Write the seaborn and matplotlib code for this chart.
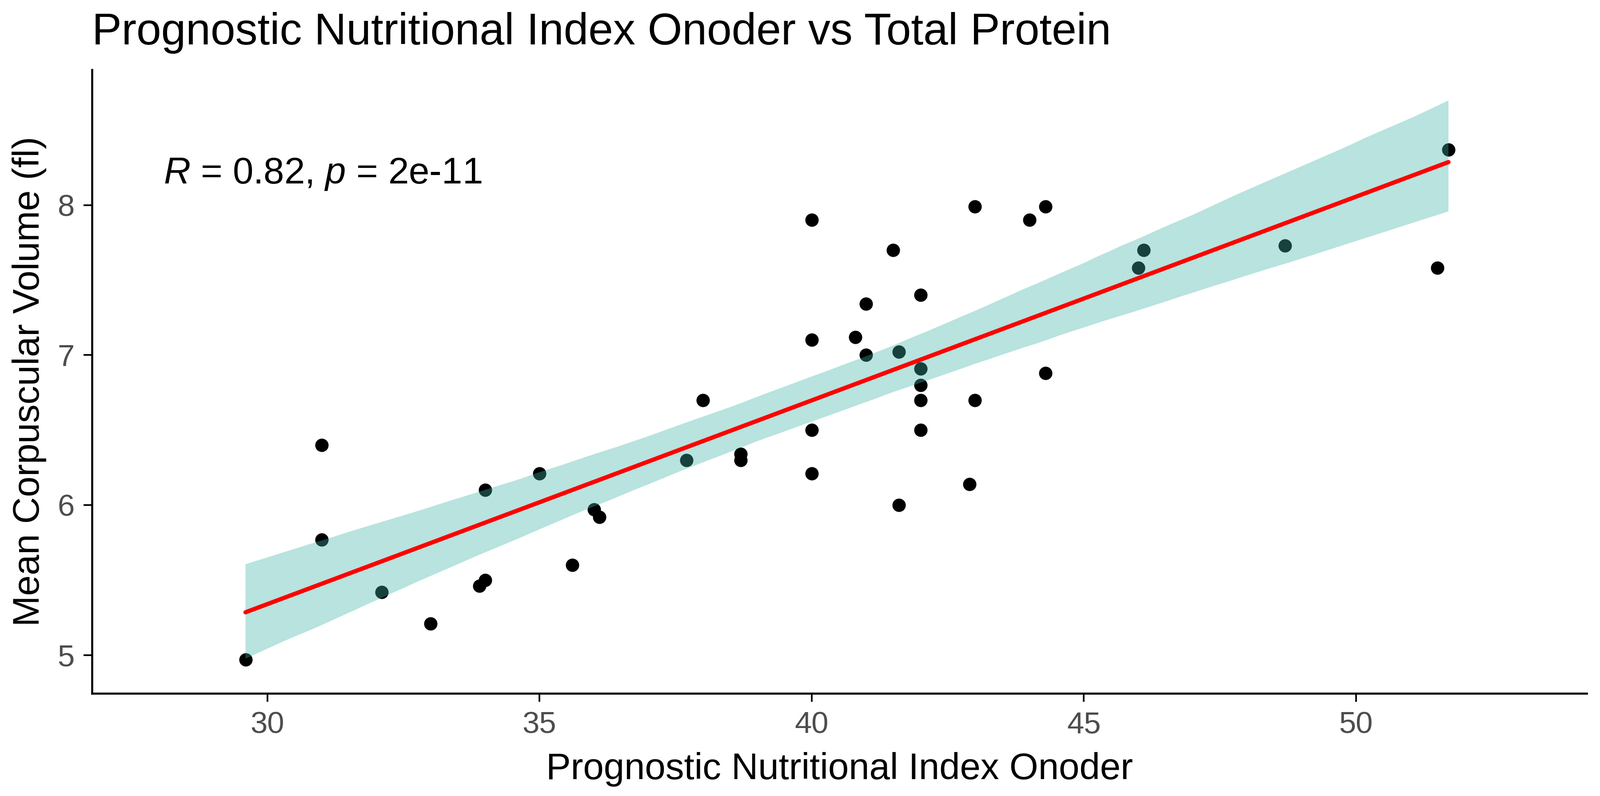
import matplotlib
matplotlib.use("Agg")
import matplotlib.pyplot as plt
import seaborn as sns
import numpy as np
import pandas as pd

# values
pni = [29.6, 31.0, 31.0, 32.1, 33.0, 33.9, 34.0, 34.0, 35.0, 35.6, 36.0, 36.1,
       37.7, 38.0, 38.7, 38.7, 40.0, 40.0, 40.0, 40.0, 40.8, 41.0, 41.0, 41.5,
       41.6, 41.6, 42.0, 42.0, 42.0, 42.0, 42.0, 43.0, 43.0, 42.9, 44.0, 44.3,
       44.3, 46.0, 46.1, 48.7, 51.5, 51.7]
mcv = [4.97, 6.40, 5.77, 5.42, 5.21, 5.46, 5.50, 6.10, 6.21, 5.60, 5.97, 5.92,
       6.30, 6.70, 6.34, 6.30, 7.90, 7.10, 6.50, 6.21, 7.12, 7.00, 7.34, 7.70,
       7.02, 6.00, 7.40, 6.91, 6.80, 6.70, 6.50, 7.99, 6.70, 6.14, 7.90, 7.99,
       6.88, 7.58, 7.70, 7.73, 7.58, 8.37]
x_ticks = [30, 35, 40, 45, 50]
y_ticks = [5, 6, 7, 8]
stat_label = r"$\mathit{R}$ = 0.82, $\mathit{p}$ = 2e-11"

df = pd.DataFrame({"pni": pni, "mcv": mcv})

sns.set_style("white")
plt.rcParams["font.family"] = ["Liberation Sans", "DejaVu Sans"]
plt.rcParams["mathtext.fontset"] = "custom"
plt.rcParams["mathtext.rm"] = "Liberation Sans"
plt.rcParams["mathtext.it"] = "Liberation Sans:italic"
plt.rcParams["text.color"] = "black"
plt.rcParams["axes.labelcolor"] = "black"

fig = plt.figure(figsize=(3601 / 300, 1792 / 300), dpi=300)
ax = fig.add_axes([0.0575, 0.1289, 0.9342, 0.7835])

sns.scatterplot(data=df, x="pni", y="mcv", ax=ax, color="black", s=52,
                linewidth=0, zorder=2)
sns.regplot(data=df, x="pni", y="mcv", ax=ax, scatter=False, seed=3,
            n_boot=2000, color="red", line_kws={"linewidth": 2.3, "zorder": 4})
# ggplot-style confidence ribbon drawn over the points
band = ax.collections[-1]
band.set_facecolor("#40B3A6")
band.set_edgecolor("none")
band.set_alpha(0.37)
band.set_zorder(3)

ax.text(28.09, 8.144, stat_label, fontsize=20, color="black",
        ha="left", va="baseline")

ax.set_xlim(26.78, 54.24)
ax.set_ylim(4.744, 8.902)
ax.set_xticks(x_ticks)
ax.set_yticks(y_ticks)

for side in ["top", "right"]:
    ax.spines[side].set_visible(False)
for side in ["left", "bottom"]:
    ax.spines[side].set_linewidth(1.1)
    ax.spines[side].set_color("black")
ax.tick_params(axis="both", length=4.6, width=0.9, color="black",
               labelsize=16.5, labelcolor="#4D4D4D", pad=4.8,
               left=True, bottom=True)

ax.set_xlabel("Prognostic Nutritional Index Onoder", fontsize=20, labelpad=7)
ax.set_ylabel("Mean Corpuscular Volume (fl)", fontsize=20, labelpad=6)
ax.set_title("Prognostic Nutritional Index Onoder vs Total Protein",
             fontsize=24, loc="left", pad=13.7, color="black")

fig.savefig("out.png", dpi=300)
